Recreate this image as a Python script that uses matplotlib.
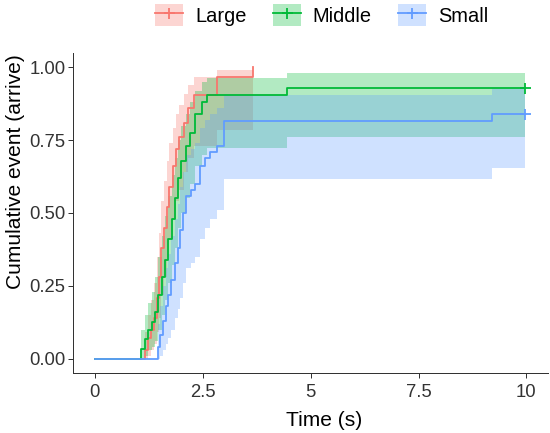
import matplotlib
matplotlib.use("Agg")
import matplotlib.pyplot as plt
from matplotlib.lines import Line2D
from matplotlib.patches import Patch
import numpy as np

plt.rcParams['font.family'] = ['Liberation Sans', 'DejaVu Sans']

groups = ["Large", "Middle", "Small"]
colors = ["#F8766D", "#00BA38", "#619CFF"]

# Large
t_large = [1.15, 1.22, 1.30, 1.38, 1.44, 1.48, 1.54, 1.60, 1.66, 1.72, 1.80, 1.88, 1.96, 2.06, 2.16, 2.30, 2.82, 3.67]
v_large = [0.03, 0.07, 0.10, 0.14, 0.21, 0.28, 0.38, 0.45, 0.52, 0.59, 0.66, 0.72, 0.76, 0.81, 0.86, 0.905, 0.965, 1.0]
lo_large = [0.0, 0.01, 0.03, 0.05, 0.09, 0.14, 0.22, 0.28, 0.35, 0.41, 0.48, 0.54, 0.58, 0.64, 0.69, 0.73, 0.785, 1.0]
hi_large = [0.09, 0.15, 0.20, 0.26, 0.35, 0.43, 0.54, 0.61, 0.68, 0.74, 0.79, 0.84, 0.87, 0.91, 0.94, 0.965, 0.99, 1.0]
end_large = 3.67
cens_large = []

# Middle
t_middle = [1.07, 1.15, 1.24, 1.33, 1.40, 1.47, 1.55, 1.62, 1.70, 1.78, 1.85, 1.92, 2.00, 2.10, 2.21, 2.33, 2.48, 2.60, 4.45]
v_middle = [0.035, 0.066, 0.10, 0.125, 0.16, 0.22, 0.28, 0.34, 0.41, 0.48, 0.55, 0.62, 0.68, 0.73, 0.775, 0.84, 0.88, 0.905, 0.93]
lo_middle = [0.0, 0.01, 0.03, 0.04, 0.06, 0.10, 0.15, 0.20, 0.26, 0.32, 0.38, 0.45, 0.50, 0.55, 0.60, 0.66, 0.70, 0.724, 0.76]
hi_middle = [0.10, 0.15, 0.19, 0.23, 0.28, 0.35, 0.42, 0.49, 0.56, 0.63, 0.69, 0.75, 0.80, 0.84, 0.88, 0.92, 0.95, 0.963, 0.98]
end_middle = 9.96
cens_middle = [9.96]

# Small
t_small = [1.46, 1.52, 1.58, 1.64, 1.70, 1.76, 1.86, 1.93, 1.98, 2.05, 2.12, 2.22, 2.33, 2.44, 2.55, 2.67, 2.83, 2.99, 9.21]
v_small = [0.04, 0.08, 0.13, 0.18, 0.22, 0.27, 0.33, 0.38, 0.44, 0.50, 0.56, 0.58, 0.60, 0.66, 0.69, 0.71, 0.73, 0.814, 0.84]
lo_small = [0.0, 0.01, 0.03, 0.05, 0.07, 0.10, 0.14, 0.17, 0.21, 0.26, 0.31, 0.33, 0.35, 0.41, 0.45, 0.48, 0.51, 0.617, 0.655]
hi_small = [0.12, 0.18, 0.25, 0.31, 0.36, 0.42, 0.48, 0.53, 0.59, 0.64, 0.70, 0.72, 0.74, 0.79, 0.82, 0.84, 0.86, 0.905, 0.925]
end_small = 9.96
cens_small = [9.96]

series = [
    (t_large, v_large, lo_large, hi_large, end_large, cens_large),
    (t_middle, v_middle, lo_middle, hi_middle, end_middle, cens_middle),
    (t_small, v_small, lo_small, hi_small, end_small, cens_small),
]

W, H = 550, 433
fig = plt.figure(figsize=(W / 72, H / 72), dpi=72)
ax_l, ax_b, ax_r, ax_t = 73.3, 373.3, 548.0, 52.7
ax = fig.add_axes([ax_l / W, 1 - ax_b / H, (ax_r - ax_l) / W, (ax_b - ax_t) / H])

for (t, v, lo, hi, end, cens), col in zip(series, colors):
    tt = np.concatenate([[0.0], t, [end]])
    vv = np.concatenate([[0.0], v, [v[-1]]])
    ll = np.concatenate([[0.0], lo, [lo[-1]]])
    hh = np.concatenate([[0.0], hi, [hi[-1]]])
    ax.fill_between(tt, ll, hh, step='post', color=col, alpha=0.3, linewidth=0)
    ax.step(tt, vv, where='post', color=col, linewidth=1.8)
    for c in cens:
        ax.plot([c], [v[-1]], marker='+', color=col, markersize=11, markeredgewidth=1.8)

ax.set_xlim(-0.5, 10.5)
ax.set_ylim(-0.05, 1.05)
ax.set_xticks([0, 2.5, 5, 7.5, 10])
ax.set_xticklabels(["0", "2.5", "5", "7.5", "10"])
ax.set_yticks([0, 0.25, 0.5, 0.75, 1.0])
ax.set_yticklabels(["0.00", "0.25", "0.50", "0.75", "1.00"])
for s in ["top", "right"]:
    ax.spines[s].set_visible(False)
for s in ["left", "bottom"]:
    ax.spines[s].set_linewidth(1.0)
    ax.spines[s].set_color("#333333")
ax.tick_params(axis='both', labelsize=18.5, colors="#333333", length=5, width=1.0)
ax.tick_params(axis='x', pad=6)
ax.tick_params(axis='y', pad=3)

ax.set_xlabel("Time (s)", fontsize=21, color="black")
ax.xaxis.set_label_coords((324 - ax_l) / (ax_r - ax_l), (ax_b - 420) / (ax_b - ax_t))
ax.xaxis.label.set_verticalalignment('center')
ax.set_ylabel("Cumulative event (arrive)", fontsize=21, color="black")
ax.yaxis.set_label_coords((16 - ax_l) / (ax_r - ax_l), (ax_b - 172) / (ax_b - ax_t))
ax.yaxis.label.set_verticalalignment('center')
ax.yaxis.label.set_horizontalalignment('center')

handles = []
for col in colors:
    handles.append((Patch(facecolor=col, alpha=0.3, edgecolor='none'),
                    Line2D([], [], color=col, linewidth=1.8, marker='+', markersize=11, markeredgewidth=1.8)))
fig.legend(handles, groups, loc='center', bbox_to_anchor=(0.585, 1 - 15 / H), ncol=3, frameon=False,
           fontsize=20, handlelength=1.4, handleheight=1.3, columnspacing=1.3, handletextpad=0.6)

fig.savefig("out.png", dpi=72)
